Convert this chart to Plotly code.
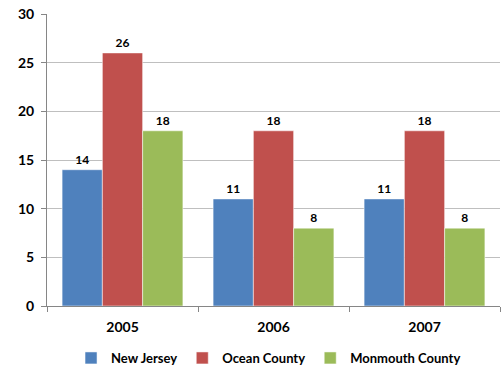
import plotly.graph_objects as go

years = ["2005", "2006", "2007"]
new_jersey = [14, 11, 11]
ocean_county = [26, 18, 18]
monmouth_county = [18, 8, 8]
y_ticks = [0, 5, 10, 15, 20, 25, 30]

series = [
    ("New Jersey", new_jersey, "#4F81BD"),
    ("Ocean County", ocean_county, "#C0504D"),
    ("Monmouth County", monmouth_county, "#9BBB59"),
]

FONT = "Lato, Open Sans, Arial, sans-serif"

fig = go.Figure()
for name, vals, color in series:
    fig.add_trace(go.Bar(
        name=name, x=years, y=vals,
        marker=dict(color=color, line=dict(color="rgba(255,255,255,0.5)", width=1)),
        text=[str(v) for v in vals], textposition="outside",
        textfont=dict(family=FONT, size=12, color="black", weight="bold"),
        cliponaxis=False,
    ))

fig.update_layout(
    width=501, height=367,
    margin=dict(l=47, r=1, t=14, b=61, autoexpand=False),
    barmode="group", bargap=0.2, bargroupgap=0,
    plot_bgcolor="white", paper_bgcolor="white",
    font=dict(family=FONT, size=12, color="black", weight="bold"),
    showlegend=True,
    legend=dict(orientation="h", x=0.536, xanchor="center", xref="container",
                y=9 / 367, yanchor="middle", yref="container",
                font=dict(family=FONT, size=13, color="black", weight="bold"),
                itemwidth=30, tracegroupgap=0, traceorder="normal"),
)
fig.update_xaxes(
    type="category", showline=True, linecolor="#868686", linewidth=1,
    ticks="outside", ticklen=5, tickcolor="#868686", tickson="boundaries",
    showgrid=False, ticklabelstandoff=8, automargin=False,
    tickfont=dict(family=FONT, size=14, color="black", weight="bold"),
)
fig.update_yaxes(
    range=[0, 30], tickvals=y_ticks, showline=True, linecolor="#868686", linewidth=1,
    ticks="outside", ticklen=5, tickcolor="#868686", automargin=False,
    showgrid=True, gridcolor="#BFBFBF", gridwidth=1, zeroline=False,
    tickfont=dict(family=FONT, size=14, color="black", weight="bold"),
    ticklabelstandoff=4,
)
fig.write_html("out.html", config={"displayModeBar": False},
               post_script="document.body.style.margin='0';document.body.style.overflow='hidden';")
